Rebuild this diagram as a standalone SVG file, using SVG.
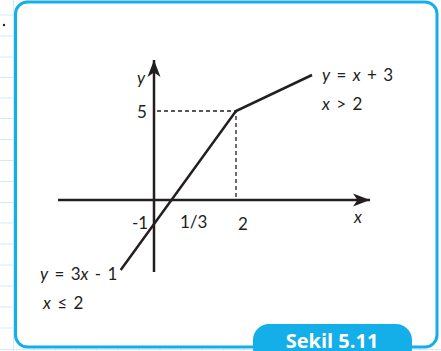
<svg xmlns="http://www.w3.org/2000/svg" width="441" height="351" viewBox="0 0 441 351">
<defs>
<style>
.grid{stroke:#d3ebf7;stroke-width:1.2;fill:none}
.t{font-family:Lato,"Open Sans","DejaVu Sans",sans-serif;font-size:17px;fill:#231f20}
.eq{word-spacing:2px}
.i{font-style:italic}
.ax{stroke:#231f20;stroke-width:2.5;fill:none}
.dash{stroke:#231f20;stroke-width:1.3;stroke-dasharray:4 3;fill:none}
</style>
<marker id="ah" markerUnits="userSpaceOnUse" markerWidth="20" markerHeight="14" viewBox="-18 -7 20 14" refX="0" refY="0" orient="auto">
<path d="M0,0 L-17,-6.5 L-12.5,0 L-17,6.5 Z" fill="#231f20"/>
</marker>
</defs>
<rect width="441" height="351" fill="#ffffff"/>
<g id="paper">
<path class="grid" d="M0,15H15M0,36H15M0,57H15M0,77.5H15M0,98H15M0,118.5H15M0,139.5H15M0,160.5H15M0,181.5H15M0,202.5H15M0,223H15M0,244H15M0,265H15M0,286H15M0,307H15M0,328H15M0,349.5H441M13.5,0V351M34,347V351M55,347V351M76,347V351M97,347V351M118,347V351M139,347V351M160,347V351M181,347V351M202,347V351M223,347V351M244,347V351M420,347V351"/>
<circle cx="4" cy="25" r="1.2" fill="#231f20"/>
</g>
<rect id="frame" x="15.5" y="2" width="421.5" height="345" rx="12" fill="#ffffff" stroke="#14aee8" stroke-width="3"/>
<g id="connectors">
<line class="ax" x1="154" y1="272" x2="154" y2="60" marker-end="url(#ah)"/>
<line class="ax" x1="58" y1="200" x2="370" y2="200" marker-end="url(#ah)"/>
<polyline class="ax" points="120.7,270 236,111 312,75"/>
<path class="dash" d="M157,111H236V198"/>
</g>
<g id="labels">
<text class="t i" x="137" y="84">y</text>
<text class="t" x="137" y="118">5</text>
<text class="t" x="132" y="229">-1</text>
<text class="t" x="180" y="228" font-size="12.5">1/3</text>
<text class="t" x="238" y="230">2</text>
<text class="t i" x="354" y="223" font-size="15">x</text>
<text class="t eq" x="322" y="81"><tspan class="i">y</tspan> = <tspan class="i">x</tspan> + 3</text>
<text class="t eq" x="322" y="110"><tspan class="i">x</tspan> &gt; 2</text>
<text class="t eq" x="40" y="280"><tspan class="i">y</tspan> = 3<tspan class="i">x</tspan> - 1</text>
<text class="t eq" x="43" y="309"><tspan class="i">x</tspan> ≤ 2</text>
</g>
<g id="tab">
<rect x="253" y="324" width="159" height="40" rx="16" fill="#14aee8"/>
<text x="332" y="348" text-anchor="middle" font-family="'Open Sans',Lato,sans-serif" font-weight="bold" font-size="20" fill="#ffffff">Sekil 5.11</text>
</g>
</svg>
